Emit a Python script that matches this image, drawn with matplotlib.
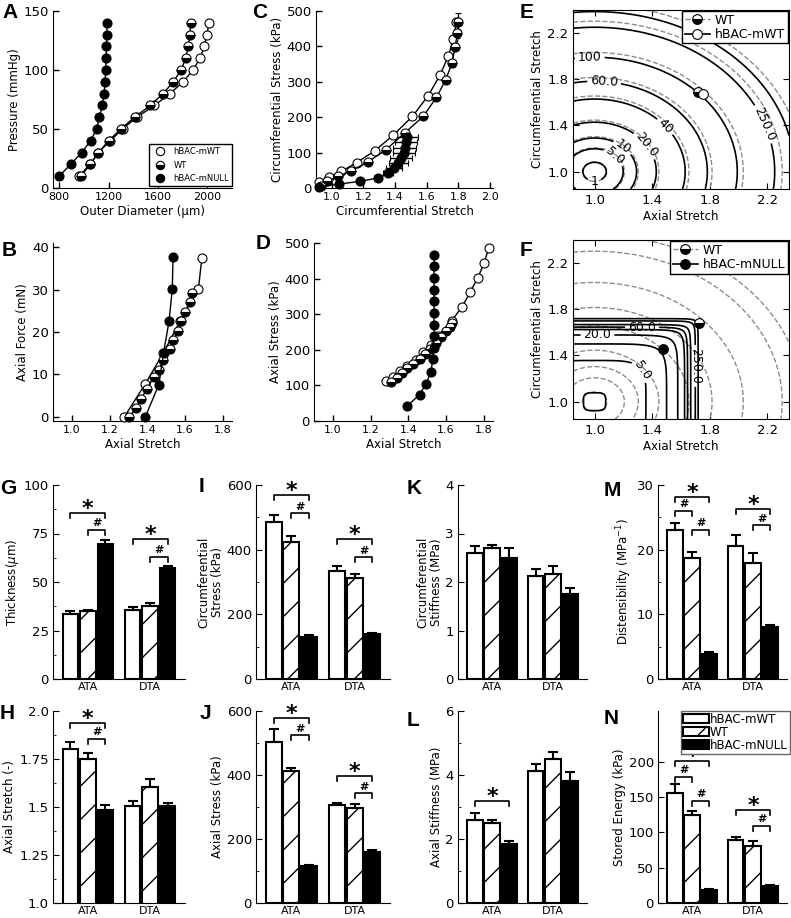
import numpy as np
import matplotlib
matplotlib.use('Agg')
import matplotlib.pyplot as plt
from matplotlib.lines import Line2D
from matplotlib.patches import Patch
from matplotlib.transforms import offset_copy

plt.rcParams['font.family'] = ['DejaVu Sans']
plt.rcParams['mathtext.fontset'] = 'dejavusans'
plt.rcParams['hatch.linewidth'] = 1.0

FW, FH = 791, 918
fig = plt.figure(figsize=(FW / 100, FH / 100), dpi=100)


def rect(l, t, r, b):
    return [l / FW, 1 - b / FH, (r - l) / FW, (b - t) / FH]


# ------------------------------------------------------------------ data
series_names = ['hBAC-mWT', 'WT', 'hBAC-mNULL']
groups = ['ATA', 'DTA']

# A: pressure-diameter
pressure = [10, 20, 30, 40, 50, 60, 70, 80, 90, 100, 110, 120, 130, 140]
A_mwt_od = [960, 1050, 1118, 1213, 1313, 1430, 1572, 1697, 1805, 1884, 1941, 1977, 1996, 2015]
A_wt_od = [977, 1050, 1118, 1200, 1300, 1411, 1539, 1642, 1724, 1789, 1824, 1846, 1860, 1865]
A_null_od = [800, 892, 982, 1055, 1104, 1126, 1150, 1164, 1172, 1177, 1180, 1183, 1186, 1188]
A_null_err = [10, 12, 12, 14, 16, 18, 18, 20, 20, 20, 22, 22, 22, 24]

# B: axial force - axial stretch
B_mwt_str = [1.279, 1.389, 1.485, 1.575, 1.672, 1.69]
B_mwt_f = [0, 7.7, 15.0, 22.6, 30.2, 37.5]
B_wt_str = [1.306, 1.341, 1.368, 1.398, 1.434, 1.462, 1.484, 1.519, 1.537, 1.563, 1.578, 1.60, 1.626, 1.64]
B_wt_f = [0, 2.0, 4.3, 6.5, 9.3, 11.1, 13.3, 15.9, 18.0, 20.2, 22.6, 24.7, 27.0, 29.2]
B_null_str = [1.39, 1.462, 1.487, 1.516, 1.533, 1.537]
B_null_f = [0, 7.6, 15.1, 22.6, 30.1, 37.6]
B_null_err = [0.008, 0.01, 0.012, 0.012, 0.014, 0.014]

# C: circumferential stress - circumferential stretch
C_mwt_str = [0.92, 0.983, 1.061, 1.158, 1.272, 1.39, 1.51, 1.61, 1.684, 1.738, 1.768, 1.789]
C_mwt_s = [16, 30, 47, 72, 105, 150, 202, 261, 318, 373, 421, 468]
C_mwt_err = [0.01, 0.01, 0.01, 0.01, 0.012, 0.015, 0.015, 0.015, 0.018, 0.018, 0.015, 0.015]
C_wt_str = [0.93, 0.97, 1.04, 1.124, 1.226, 1.342, 1.46, 1.578, 1.662, 1.72, 1.76, 1.78, 1.795, 1.80]
C_wt_s = [5, 19, 33, 49, 73, 108, 155, 202, 256, 305, 352, 399, 437, 470]
C_wt_yerr = [2, 2, 3, 3, 4, 5, 6, 6, 7, 8, 9, 10, 12, 25]
C_null_str = [0.92, 1.046, 1.18, 1.29, 1.357, 1.395, 1.42, 1.44, 1.455, 1.46, 1.47, 1.475]
C_null_s = [3, 11, 19, 28, 42, 56, 70, 85, 99, 113, 129, 145]
C_null_err = [0.01, 0.01, 0.015, 0.02, 0.03, 0.05, 0.06, 0.07, 0.07, 0.07, 0.07, 0.07]

# D: axial stress - axial stretch
D_mwt_str = [1.283, 1.32, 1.355, 1.396, 1.44, 1.48, 1.52, 1.56, 1.63, 1.686, 1.728, 1.77, 1.804, 1.827]
D_mwt_s = [113, 125, 140, 155, 172, 193, 213, 240, 281, 321, 361, 403, 445, 486]
D_wt_str = [1.31, 1.34, 1.367, 1.394, 1.428, 1.46, 1.49, 1.517, 1.547, 1.574, 1.60, 1.622, 1.635]
D_wt_s = [110, 122, 135, 149, 160, 174, 188, 201, 220, 235, 252, 265, 276]
D_null_str = [1.392, 1.46, 1.495, 1.521, 1.53, 1.535, 1.537, 1.537, 1.537, 1.537, 1.537, 1.537, 1.537, 1.537]
D_null_s = [41, 74, 105, 138, 173, 206, 239, 271, 304, 337, 369, 401, 434, 466]
D_null_err = 0.015

# E/F: strain-energy contours (model parameters) and in vivo points
levels = [1, 5, 10, 20, 40, 60, 100, 250, 500]
level_fmt = {1: '1', 5: '5.0', 10: '10', 20: '20.0', 40: '40', 60: '60.0',
             100: '100', 250: '250.0', 500: '500'}
mwt_a, mwt_p, mwt_b, mwt_q = 92.0, 1.8, 10.5, 10.6
wt_scale = 0.96
null_a, null_c, null_k = 13.0, 5.2, 33.0
E_points = {'WT': (1.718, 1.69), 'hBAC-mWT': (1.753, 1.67)}
F_points = {'WT': (1.727, 1.68), 'hBAC-mNULL': (1.473, 1.46)}
E_label_pos = {1: (1.0, 0.97), 5: (1.15, 1.15), 10: (1.2, 1.22), 20: (1.385, 1.26),
               40: (1.49, 1.39), 60: (1.07, 1.845), 100: (0.965, 2.05), 250: (2.17, 1.41)}
F_label_pos = {5: (1.29, 1.24), 20: (1.02, 1.56), 60: (1.33, 1.63), 250: (1.63, 1.31)}

# G-N: bar data [ATA, DTA] for hBAC-mWT, WT, hBAC-mNULL
G_vals = [[33.5, 35.8], [34.9, 37.8], [69.6, 57.3]]
G_errs = [[1.6, 1.3], [0.9, 1.4], [2.2, 1.1]]
H_vals = [[1.80, 1.505], [1.75, 1.605], [1.485, 1.505]]
H_errs = [[0.04, 0.025], [0.03, 0.04], [0.025, 0.015]]
I_vals = [[486, 335], [424, 313], [129, 138]]
I_errs = [[22, 13], [18, 13], [8, 3]]
J_vals = [[502, 306], [413, 298], [115, 158]]
J_errs = [[42, 8], [10, 11], [4, 8]]
K_vals = [[2.60, 2.12], [2.71, 2.16], [2.49, 1.76]]
K_errs = [[0.15, 0.14], [0.06, 0.16], [0.22, 0.12]]
L_vals = [[2.58, 4.14], [2.49, 4.49], [1.84, 3.82]]
L_errs = [[0.24, 0.21], [0.10, 0.22], [0.10, 0.27]]
M_vals = [[23.0, 20.6], [18.7, 17.9], [3.9, 8.0]]
M_errs = [[1.1, 1.7], [0.9, 1.6], [0.25, 0.4]]
N_vals = [[156, 89.5], [124.7, 81.4], [18.8, 24.5]]
N_errs = [[12.5, 4.5], [5.3, 6.6], [1.2, 1.4]]

# significance brackets: (group, bar_i, bar_j, height, symbol)
G_br = [(0, 0, 2, 85.6, '*'), (0, 1, 2, 77, '#'), (1, 0, 2, 72, '*'), (1, 1, 2, 63, '#')]
H_br = [(0, 0, 2, 1.94, '*'), (0, 1, 2, 1.855, '#')]
I_br = [(0, 0, 2, 569, '*'), (0, 1, 2, 513, '#'), (1, 0, 2, 433, '*'), (1, 1, 2, 377, '#')]
J_br = [(0, 0, 2, 578, '*'), (0, 1, 2, 525, '#'), (1, 0, 2, 396, '*'), (1, 1, 2, 343, '#')]
K_br = []
L_br = [(0, 0, 2, 3.18, '*')]
M_br = [(0, 0, 2, 28.2, '*'), (0, 0, 1, 26.0, '#'), (0, 1, 2, 23.1, '#'),
        (1, 0, 2, 26.3, '*'), (1, 1, 2, 23.8, '#')]
N_br = [(0, 0, 2, 200.9, '*'), (0, 0, 1, 178.8, '#'), (0, 1, 2, 145, '#'),
        (1, 0, 2, 131.8, '*'), (1, 1, 2, 109.2, '#')]

# ------------------------------------------------------------------ styles
STY = {
    'mwt': dict(marker='o', mfc='white', mec='black'),
    'wt': dict(marker='o', fillstyle='bottom', mfc='black', markerfacecoloralt='white', mec='black'),
    'null': dict(marker='o', mfc='black', mec='black'),
}
MS = 6.5


def line_axes(rp, xlim, ylim, xticks, yticks, xlabel, ylabel):
    ax = fig.add_axes(rect(*rp))
    ax.set_xlim(xlim)
    ax.set_ylim(ylim)
    ax.set_xticks(xticks)
    ax.set_yticks(yticks)
    for s in ['top', 'right']:
        ax.spines[s].set_visible(False)
    ax.tick_params(direction='in', length=4, width=1)
    ax.tick_params(axis='x', labelsize=8, pad=3)
    ax.tick_params(axis='y', labelsize=9.5, pad=3)
    ax.set_xlabel(xlabel, fontsize=8.5, labelpad=2)
    ax.set_ylabel(ylabel, fontsize=8.5, labelpad=2)
    return ax


def series(ax, x, y, key, xerr=None, yerr=None, z=3):
    ax.errorbar(x, y, xerr=xerr, yerr=yerr, color='black', lw=1, ms=MS, mew=0.8,
                capsize=2, elinewidth=1, capthick=1, zorder=z, clip_on=False, **STY[key])


# A
axA = line_axes((53, 11, 232, 188), (750, 2200), (0, 150), [800, 1200, 1600, 2000],
                [0, 50, 100, 150], 'Outer Diameter (\u03bcm)', 'Pressure (mmHg)')
series(axA, A_mwt_od, pressure, 'mwt')
series(axA, A_wt_od, pressure, 'wt')
series(axA, A_null_od, pressure, 'null', xerr=A_null_err)
hA = [Line2D([], [], ls='none', ms=6, mew=0.8, **STY[k]) for k in ['mwt', 'wt', 'null']]
axA.legend(hA, series_names, loc='lower right', bbox_to_anchor=(1.0, 0.01), fontsize=6,
           numpoints=1, fancybox=False, edgecolor='black', framealpha=1, borderaxespad=0,
           handletextpad=0.6, labelspacing=0.55, borderpad=0.35)

# B
axB = line_axes((53, 243, 232, 421), (0.9, 1.85), (-1, 41), [1.0, 1.2, 1.4, 1.6, 1.8],
                [0, 10, 20, 30, 40], 'Axial Stretch', 'Axial Force (mN)')
series(axB, B_mwt_str, B_mwt_f, 'mwt')
series(axB, B_wt_str, B_wt_f, 'wt')
series(axB, B_null_str, B_null_f, 'null', xerr=B_null_err)

# C
axC = line_axes((316, 11, 493, 188), (0.9, 2.02), (0, 500), [1.0, 1.2, 1.4, 1.6, 1.8, 2.0],
                [0, 100, 200, 300, 400, 500], 'Circumferential Stretch', 'Circumferential Stress (kPa)')
series(axC, C_mwt_str, C_mwt_s, 'mwt', xerr=C_mwt_err)
series(axC, C_wt_str, C_wt_s, 'wt', yerr=C_wt_yerr)
series(axC, C_null_str, C_null_s, 'null', xerr=C_null_err)

# D
axD = line_axes((314, 243, 493, 421), (0.9, 1.85), (0, 500), [1.0, 1.2, 1.4, 1.6, 1.8],
                [0, 100, 200, 300, 400, 500], 'Axial Stretch', 'Axial Stress (kPa)')
series(axD, D_mwt_str, D_mwt_s, 'mwt')
series(axD, D_wt_str, D_wt_s, 'wt')
series(axD, D_null_str, D_null_s, 'null', xerr=D_null_err)


# ------------------------------------------------------------------ contours
lz = np.linspace(0.85, 2.35, 400)
lt = np.linspace(0.85, 2.4, 400)
LZ, LT = np.meshgrid(lz, lt)


def w_mwt(z, t, scale=1.0):
    r = np.hypot(z - 1, t - 1) * scale
    return mwt_a * r ** mwt_p + mwt_b * r ** mwt_q


def w_null(z, t):
    u = z - 1
    v = t - 1
    rp = (np.abs(u) ** 4 + np.abs(v) ** 4) ** 0.25
    return null_a * rp + null_c * (np.exp(null_k * u ** 6) - 1) + null_c * (np.exp(null_k * v ** 6) - 1)


def contour_axes(rp):
    ax = fig.add_axes(rect(*rp))
    ax.set_xlim(0.85, 2.35)
    ax.set_ylim(0.85, 2.4)
    ax.set_xticks([1.0, 1.4, 1.8, 2.2])
    ax.set_yticks([1.0, 1.4, 1.8, 2.2])
    ax.tick_params(direction='in', length=4, top=True, right=True, labelsize=9.5)
    ax.set_xlabel('Axial Stretch', fontsize=8.5, labelpad=2)
    ax.set_ylabel('Circumferential Stretch', fontsize=8.5, labelpad=2)
    return ax


def solid_contours(ax, W, positions):
    for lev in levels:
        cs = ax.contour(LZ, LT, W, levels=[lev], colors='black', linewidths=1.2)
        if lev in positions:
            try:
                ax.clabel(cs, manual=[positions[lev]], fmt={lev: level_fmt[lev]}, fontsize=9,
                          inline=True, inline_spacing=3)
            except Exception:
                pass


W_wt = w_mwt(LZ, LT, wt_scale)

# E
axE = contour_axes((573, 10, 789, 189))
axE.contour(LZ, LT, W_wt, levels=levels, colors='0.55', linestyles='--', linewidths=1.0)
solid_contours(axE, w_mwt(LZ, LT), E_label_pos)
axE.plot(*E_points['WT'], ls='none', ms=7, mew=0.8, zorder=5, **STY['wt'])
axE.plot(*E_points['hBAC-mWT'], ls='none', ms=7, mew=0.8, zorder=5, **STY['mwt'])
hE = [Line2D([], [], color='0.55', ls='--', lw=1, ms=7, mew=0.8, **STY['wt']),
      Line2D([], [], color='black', ls='-', lw=1.2, ms=7, mew=0.8, **STY['mwt'])]
axE.legend(hE, ['WT', 'hBAC-mWT'], loc='upper right', fontsize=9, fancybox=False,
           edgecolor='black', framealpha=1, borderaxespad=0.1, borderpad=0.2,
           labelspacing=0.1, handlelength=2.0, handletextpad=0.4)

# F
axF = contour_axes((573, 240, 789, 419))
axF.contour(LZ, LT, W_wt, levels=levels, colors='0.55', linestyles='--', linewidths=1.0)
solid_contours(axF, w_null(LZ, LT), F_label_pos)
axF.plot(*F_points['WT'], ls='none', ms=7, mew=0.8, zorder=5, **STY['wt'])
axF.plot(*F_points['hBAC-mNULL'], ls='none', ms=7, mew=0.8, zorder=5, **STY['null'])
hF = [Line2D([], [], color='0.55', ls='--', lw=1, ms=7, mew=0.8, **STY['wt']),
      Line2D([], [], color='black', ls='-', lw=1.2, ms=7, mew=0.8, **STY['null'])]
axF.legend(hF, ['WT', 'hBAC-mNULL'], loc='upper right', fontsize=9, fancybox=False,
           edgecolor='black', framealpha=1, borderaxespad=0.1, borderpad=0.2,
           labelspacing=0.1, handlelength=2.0, handletextpad=0.4)

# ------------------------------------------------------------------ bars
BAR_FACE = ['white', 'white', 'black']
BAR_HATCH = [None, '/', None]
OFFS = [-0.28, 0.0, 0.28]
BW = 0.25


def bar_axes(rp, ylim, yticks, yticklabels, yminor, ylabel, vals, errs, brs):
    ax = fig.add_axes(rect(*rp))
    x = np.arange(len(groups))
    for k in range(3):
        ax.bar(x + OFFS[k], vals[k], width=BW, color=BAR_FACE[k], edgecolor='black',
               linewidth=1.5, hatch=BAR_HATCH[k], zorder=2)
        ax.errorbar(x + OFFS[k], vals[k], yerr=[np.zeros(len(groups)), errs[k]], fmt='none',
                    ecolor='black', elinewidth=1.5, capsize=3.5, capthick=1.5, zorder=3)
    ax.set_xlim(-0.56, 1.56)
    ax.set_ylim(ylim)
    ax.set_yticks(yticks)
    ax.set_yticklabels(yticklabels)
    ax.set_yticks(yminor, minor=True)
    ax.set_xticks(x)
    ax.set_xticklabels(groups)
    for s in ['top', 'right']:
        ax.spines[s].set_visible(False)
    ax.tick_params(axis='y', direction='in', length=4, labelsize=9.5, pad=3)
    ax.tick_params(axis='y', which='minor', direction='in', length=2)
    ax.tick_params(axis='x', length=0, labelsize=8, pad=2.5)
    ax.set_ylabel(ylabel, fontsize=8.5, labelpad=2, linespacing=1.0)
    h_px = (rp[3] - rp[1])
    drop = 5.0 * (ylim[1] - ylim[0]) / h_px
    star_tr = offset_copy(ax.transData, fig=fig, y=-1.5, units='points')
    hash_tr = offset_copy(ax.transData, fig=fig, y=2.5, units='points')
    for g, i, j, yv, sym in brs:
        x1, x2 = g + OFFS[i], g + OFFS[j]
        ax.plot([x1, x1, x2, x2], [yv - drop, yv, yv, yv - drop], color='black', lw=1.2,
                zorder=4, clip_on=False)
        if sym == '*':
            ax.text((x1 + x2) / 2, yv, '*', ha='center', va='baseline', fontsize=16,
                    fontweight='bold', transform=star_tr, clip_on=False)
        else:
            ax.text((x1 + x2) / 2, yv, '#', ha='center', va='baseline', fontsize=8,
                    fontweight='bold', transform=hash_tr, clip_on=False)
    return ax


ROW1 = (485, 679)
ROW2 = (711, 903)
bar_axes((53, ROW1[0], 185, ROW1[1]), (0, 100), [0, 25, 50, 75, 100], ['0', '25', '50', '75', '100'],
         [12.5, 37.5, 62.5, 87.5], 'Thickness($\\mu$m)', G_vals, G_errs, G_br)
bar_axes((53, ROW2[0], 185, ROW2[1]), (1.0, 2.0), [1.0, 1.25, 1.5, 1.75, 2.0],
         ['1.0', '1.25', '1.5', '1.75', '2.0'], [1.125, 1.375, 1.625, 1.875],
         'Axial Stretch (-)', H_vals, H_errs, H_br)
bar_axes((256, ROW1[0], 390, ROW1[1]), (0, 600), [0, 200, 400, 600], ['0', '200', '400', '600'],
         [100, 300, 500], 'Circumferential\nStress (kPa)', I_vals, I_errs, I_br)
bar_axes((256, ROW2[0], 390, ROW2[1]), (0, 600), [0, 200, 400, 600], ['0', '200', '400', '600'],
         [100, 300, 500], 'Axial Stress (kPa)', J_vals, J_errs, J_br)
bar_axes((458, ROW1[0], 587, ROW1[1]), (0, 4), [0, 1, 2, 3, 4], ['0', '1', '2', '3', '4'],
         [], 'Circumferential\nStiffness (MPa)', K_vals, K_errs, K_br)
bar_axes((458, ROW2[0], 587, ROW2[1]), (0, 6), [0, 2, 4, 6], ['0', '2', '4', '6'],
         [1, 3, 5], 'Axial Stiffness (MPa)', L_vals, L_errs, L_br)
bar_axes((658, ROW1[0], 787, ROW1[1]), (0, 30), [0, 10, 20, 30], ['0', '10', '20', '30'],
         [5, 15, 25], 'Distensibility (MPa$^{-1}$)', M_vals, M_errs, M_br)
axN = bar_axes((658, ROW2[0], 787, ROW2[1]), (0, 272), [0, 50, 100, 150, 200],
               ['0', '50', '100', '150', '200'], [], 'Stored Energy (kPa)', N_vals, N_errs, N_br)
hN = [Patch(facecolor=BAR_FACE[k], edgecolor='black', hatch=BAR_HATCH[k], linewidth=1.5)
      for k in range(3)]
axN.legend(hN, series_names, loc='upper right', bbox_to_anchor=(1.02, 1.0), fontsize=8.5,
           fancybox=False, edgecolor='0.4', framealpha=1, borderaxespad=0, borderpad=0.15,
           labelspacing=0.0, handlelength=2.2, handleheight=0.75, handletextpad=0.1)

# ------------------------------------------------------------------ panel letters
letters = {'A': (2, 3), 'B': (2, 241), 'C': (252, 3), 'D': (256, 234), 'E': (520, 3),
           'F': (520, 241), 'G': (0, 479), 'H': (0, 704), 'I': (199, 477), 'J': (200, 704),
           'K': (407, 479), 'L': (407, 711), 'M': (604, 481), 'N': (604, 709)}
for t, (px, py) in letters.items():
    fig.text(px / FW, 1 - py / FH, t, fontsize=15, fontweight='bold', family='Liberation Sans',
             ha='left', va='top')

fig.savefig('out.png', dpi=100)
